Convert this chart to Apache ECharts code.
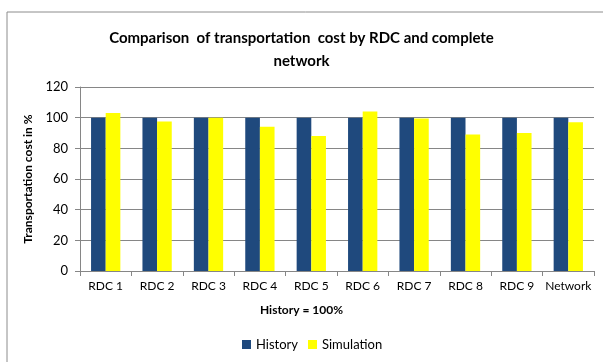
<!DOCTYPE html>
<html>
<head>
<meta charset="utf-8">
<script src="https://cdn.jsdelivr.net/npm/echarts@6/dist/echarts.min.js"></script>
<style>
  html, body { margin: 0; padding: 0; background: #fff; }
  #chart { width: 603px; height: 362px; }
</style>
</head>
<body>
<div id="chart"></div>
<script>
// Transportation cost per RDC, history set to 100%
const categories = ['RDC 1', 'RDC 2', 'RDC 3', 'RDC 4', 'RDC 5', 'RDC 6', 'RDC 7', 'RDC 8', 'RDC 9', 'Network'];
const historyValues = [100, 100, 100, 100, 100, 100, 100, 100, 100, 100];
const simulationValues = [103, 97.5, 100, 94, 88, 104, 99.5, 89, 90, 97];
const yTicks = { min: 0, max: 120, interval: 20 };

const FONT = 'Lato, "Liberation Sans", sans-serif';

const chart = echarts.init(document.getElementById('chart'));
chart.setOption({
  animation: false,
  textStyle: { fontFamily: FONT },
  title: {
    text: 'Comparison  of transportation  cost by RDC and complete\nnetwork',
    left: 'center',
    top: 22,
    textStyle: { fontFamily: FONT, fontSize: 15, fontWeight: 'bold', color: '#000', lineHeight: 23 }
  },
  graphic: [
    { type: 'rect', shape: { x: 7, y: 12, width: 610, height: 360 },
      style: { fill: 'none', stroke: '#8c8c8c', lineWidth: 1 }, silent: true },
    { type: 'text', left: 'center', top: 304,
      style: { text: 'History = 100%', font: 'bold 12px ' + FONT, fill: '#000' } }
  ],
  legend: {
    bottom: 6,
    left: 237,
    itemWidth: 9,
    itemHeight: 9,
    itemGap: 10,
    icon: 'rect',
    textStyle: { fontFamily: FONT, fontSize: 13, color: '#000' },
    data: ['History', 'Simulation']
  },
  grid: { left: 80, right: 9, top: 87, bottom: 91 },
  xAxis: {
    type: 'category',
    data: categories,
    axisLine: { lineStyle: { color: '#868686' } },
    axisTick: { show: true, alignWithLabel: false, length: 5, lineStyle: { color: '#868686' } },
    axisLabel: { color: '#000', fontSize: 12, margin: 9, interval: 0, fontFamily: FONT }
  },
  yAxis: {
    type: 'value',
    min: yTicks.min,
    max: yTicks.max,
    interval: yTicks.interval,
    name: 'Transportation cost in %',
    nameLocation: 'middle',
    nameGap: 46,
    nameTextStyle: { fontFamily: FONT, fontSize: 12, fontWeight: 'bold', color: '#000' },
    axisLine: { show: true, lineStyle: { color: '#868686' } },
    axisTick: { show: true, length: 5, lineStyle: { color: '#868686' } },
    axisLabel: { color: '#000', fontSize: 13, margin: 12, fontFamily: FONT },
    splitLine: { lineStyle: { color: '#868686' } }
  },
  series: [
    { name: 'History', type: 'bar', data: historyValues, barGap: '0%', barCategoryGap: '43%',
      itemStyle: { color: '#1f497d' } },
    { name: 'Simulation', type: 'bar', data: simulationValues,
      itemStyle: { color: '#ffff00' } }
  ]
});
</script>
</body>
</html>
